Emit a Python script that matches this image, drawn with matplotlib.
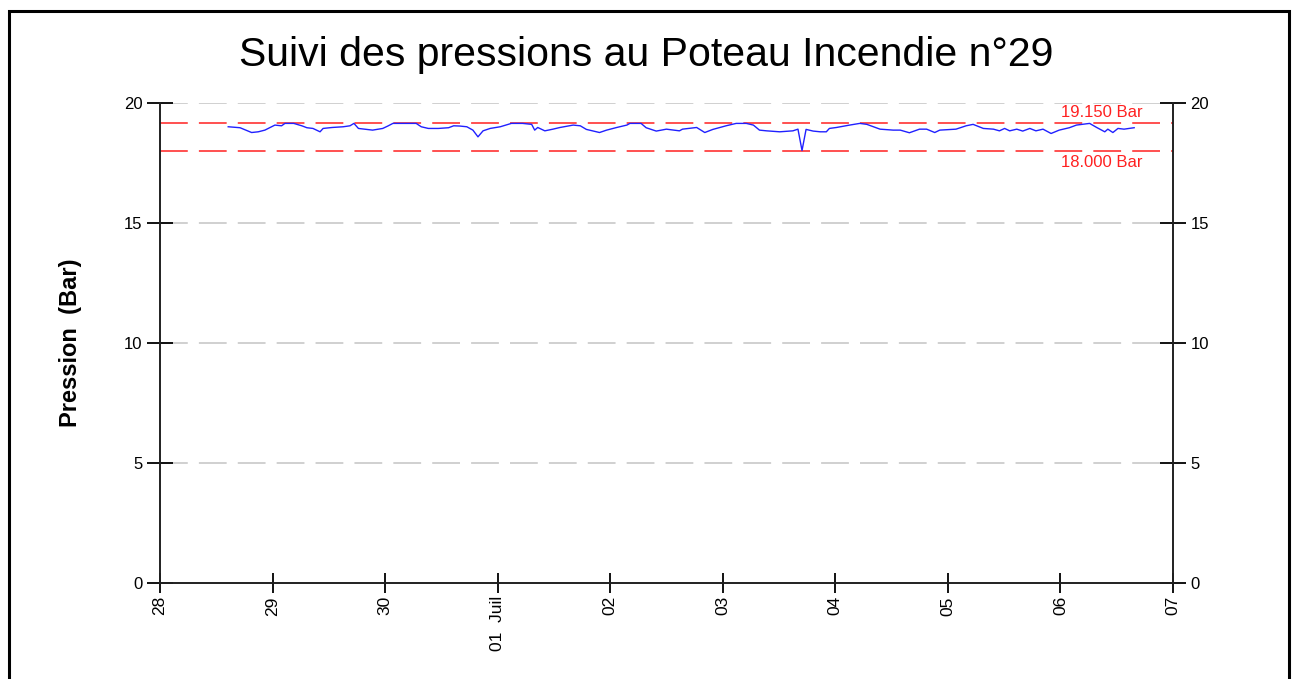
import matplotlib
matplotlib.use("Agg")
import matplotlib.pyplot as plt
from matplotlib.patches import Rectangle

plt.rcParams['font.family'] = ['Liberation Sans', 'DejaVu Sans']
plt.rcParams['lines.scale_dashes'] = False

# temps en jours depuis le 28 juin 0h, pression en bar
jours = [0.606, 0.711, 0.814, 0.873, 0.932, 1.021, 1.080, 1.110, 1.188, 1.260,
         1.305, 1.359, 1.422, 1.449, 1.529, 1.628, 1.688, 1.723, 1.763, 1.817,
         1.889, 1.979, 2.024, 2.069, 2.177, 2.276, 2.321, 2.384, 2.474, 2.564,
         2.609, 2.663, 2.726, 2.780, 2.825, 2.870, 2.933, 3.023, 3.122, 3.221,
         3.302, 3.329, 3.356, 3.419, 3.491, 3.554, 3.671, 3.734, 3.788, 3.905,
         3.968, 4.058, 4.148, 4.175, 4.274, 4.319, 4.409, 4.499, 4.615, 4.642,
         4.768, 4.840, 4.912, 5.029, 5.119, 5.209, 5.272, 5.326, 5.389, 5.506,
         5.623, 5.668, 5.704, 5.740, 5.803, 5.866, 5.920, 5.947, 6.010, 6.127,
         6.217, 6.280, 6.397, 6.514, 6.577, 6.658, 6.748, 6.811, 6.883, 6.928,
         7.072, 7.162, 7.224, 7.315, 7.405, 7.458, 7.504, 7.549, 7.612, 7.665,
         7.728, 7.782, 7.845, 7.917, 7.989, 8.079, 8.142, 8.259, 8.322, 8.394,
         8.421, 8.466, 8.511, 8.565, 8.655]
pression = [19.01, 18.97, 18.77, 18.80, 18.87, 19.08, 19.05, 19.15, 19.15, 19.05,
            18.97, 18.94, 18.80, 18.94, 18.98, 19.01, 19.05, 19.15, 18.94, 18.91,
            18.87, 18.94, 19.04, 19.15, 19.15, 19.15, 19.01, 18.94, 18.94, 18.97,
            19.05, 19.04, 19.01, 18.87, 18.59, 18.84, 18.94, 19.01, 19.15, 19.15,
            19.11, 18.87, 18.98, 18.84, 18.91, 18.98, 19.08, 19.05, 18.90, 18.77,
            18.87, 18.98, 19.08, 19.15, 19.15, 18.97, 18.83, 18.91, 18.84, 18.91,
            18.98, 18.77, 18.90, 19.05, 19.15, 19.15, 19.08, 18.87, 18.84, 18.80,
            18.84, 18.91, 18.02, 18.90, 18.83, 18.80, 18.80, 18.94, 18.98, 19.08,
            19.15, 19.11, 18.91, 18.87, 18.87, 18.76, 18.91, 18.91, 18.77, 18.87,
            18.91, 19.05, 19.11, 18.94, 18.91, 18.84, 18.94, 18.84, 18.91, 18.83,
            18.94, 18.84, 18.91, 18.73, 18.87, 18.97, 19.08, 19.15, 18.98, 18.80,
            18.91, 18.77, 18.94, 18.91, 18.97]

jours_ticks = [0, 1, 2, 3, 4, 5, 6, 7, 8, 9]
jours_labels = ["28", "29", "30", "01  Juil", "02", "03", "04", "05", "06", "07"]
seuil_haut = 19.15
seuil_bas = 18.0

fig = plt.figure(figsize=(12.93, 6.79), dpi=100)
ax = fig.add_axes([160 / 1293, 1 - 583 / 679, 1013 / 1293, 480 / 679])

for y in [5, 10, 15, 20]:
    ax.axhline(y, color="#c8c8c8", linewidth=1.2, linestyle=(0, (20, 8)), zorder=1)
ax.axhline(seuil_haut, color="#ff2020", linewidth=1.1, linestyle=(0, (20, 8)), zorder=2)
ax.axhline(seuil_bas, color="#ff2020", linewidth=1.1, linestyle=(0, (20, 8)), zorder=2)
ax.plot(jours, pression, color="#2020ff", linewidth=1.0, zorder=3)

ax.text(8.73, seuil_haut + 0.15, "19.150 Bar", color="#ff2020", fontsize=12,
        ha="right", va="bottom")
ax.text(8.73, seuil_bas - 0.15, "18.000 Bar", color="#ff2020", fontsize=12,
        ha="right", va="top")

ax.set_xlim(0, 9)
ax.set_ylim(0, 20)
ax.set_xticks(jours_ticks)
ax.set_xticklabels(jours_labels, rotation=90, fontsize=12.5)
ax.set_yticks([0, 5, 10, 15, 20])
ax.tick_params(axis="x", direction="inout", length=15, width=1.3, pad=2)
ax.tick_params(axis="y", direction="inout", length=19, width=1.3, pad=3,
               labelsize=12, right=True, labelright=True)
ax.spines["top"].set_visible(False)
for s in ["left", "bottom", "right"]:
    ax.spines[s].set_linewidth(1.4)
    ax.spines[s].set_color("#202020")

ax.set_ylabel("Pression  (Bar)", fontsize=17, fontweight="bold", labelpad=30)

fig.text(0.5, 1 - 55 / 679, "Suivi des pressions au Poteau Incendie n°29",
         fontsize=29.5, ha="center", va="center")

fig.patches.append(Rectangle((9 / 1293, -0.1), 1280 / 1293, 1.1 - 11 / 679,
                             transform=fig.transFigure, fill=False,
                             edgecolor="black", linewidth=2.2))

fig.savefig("out.png", dpi=100)
